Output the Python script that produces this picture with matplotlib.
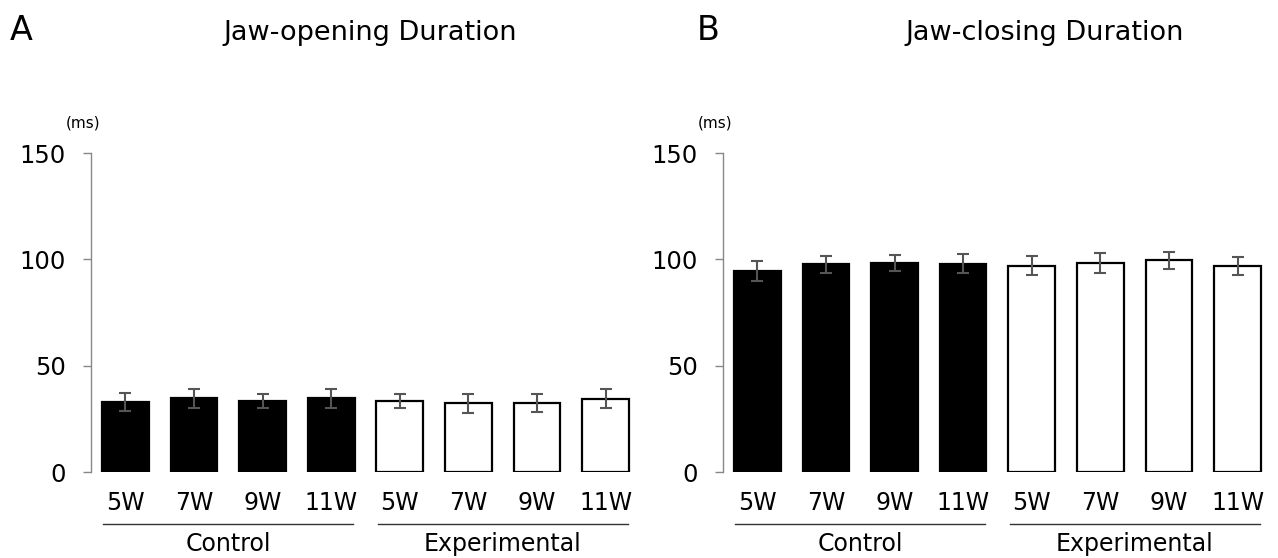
import numpy as np
import matplotlib
matplotlib.use("Agg")
import matplotlib.pyplot as plt
from matplotlib.transforms import blended_transform_factory

plt.rcParams['font.family'] = ['DejaVu Sans']

weeks = ['5W', '7W', '9W', '11W']
groups = ['Control', 'Experimental']

# jaw-opening duration (ms), control then experimental
open_mean = [33.0, 34.7, 33.4, 34.7, 33.3, 32.3, 32.3, 34.5]
open_err = [4.3, 4.4, 3.3, 4.4, 3.3, 4.4, 4.2, 4.4]

# jaw-closing duration (ms)
close_mean = [94.5, 97.7, 98.4, 98.0, 97.0, 98.3, 99.5, 97.0]
close_err = [4.7, 4.1, 3.8, 4.4, 4.5, 4.8, 4.0, 4.3]

fig = plt.figure(figsize=(12.78, 5.58), dpi=100)
ax_a = fig.add_axes([0.0712, 0.1541, 0.4296, 0.5717])
ax_b = fig.add_axes([0.5657, 0.1541, 0.4296, 0.5717])

def draw_panel(ax, means, errs):
    x = np.arange(len(means))
    fills = ['black'] * 4 + ['white'] * 4
    ax.bar(x, means, width=0.68, color=fills, edgecolor='black', linewidth=1.6, zorder=2)
    ax.errorbar(x, means, yerr=errs, fmt='none', ecolor='#555555', elinewidth=1.5,
                capsize=4, capthick=1.5, zorder=3)
    ax.set_xlim(-0.5, 7.5)
    ax.set_ylim(0, 150)
    ax.set_yticks([0, 50, 100, 150])
    ax.tick_params(axis='y', labelsize=17.5, length=6, width=1, color='#888888', pad=12)
    ax.set_xticks([])
    for s in ['top', 'right', 'bottom']:
        ax.spines[s].set_visible(False)
    ax.spines['left'].set_color('#888888')
    ax.spines['left'].set_linewidth(1)

    tr = blended_transform_factory(ax.transData, ax.transAxes)
    for i, xi in enumerate(x):
        ax.text(xi, -0.119, weeks[i % 4], transform=tr, ha='center', va='baseline',
                fontsize=17)
    for g, name in enumerate(groups):
        start = g * 4
        ax.plot([start - 0.32, start + 3.32], [-0.163, -0.163], transform=tr,
                color='#333333', lw=1, clip_on=False)
        ax.text(start + 1.5, -0.248, name, transform=tr, ha='center', va='baseline',
                fontsize=17)
    ax.text(-0.62, 1.095, '(ms)', transform=tr, ha='center', va='center', fontsize=11)

draw_panel(ax_a, open_mean, open_err)
draw_panel(ax_b, close_mean, close_err)

fig.text(10 / 1278, 1 - 40 / 558, 'A', fontsize=24, ha='left', va='baseline')
fig.text(697 / 1278, 1 - 40 / 558, 'B', fontsize=24, ha='left', va='baseline')
fig.text(370 / 1278, 1 - 40 / 558, 'Jaw-opening Duration', fontsize=19.5,
         ha='center', va='baseline')
fig.text(1045 / 1278, 1 - 40 / 558, 'Jaw-closing Duration', fontsize=19.5,
         ha='center', va='baseline')

fig.savefig('out.png', dpi=100)
